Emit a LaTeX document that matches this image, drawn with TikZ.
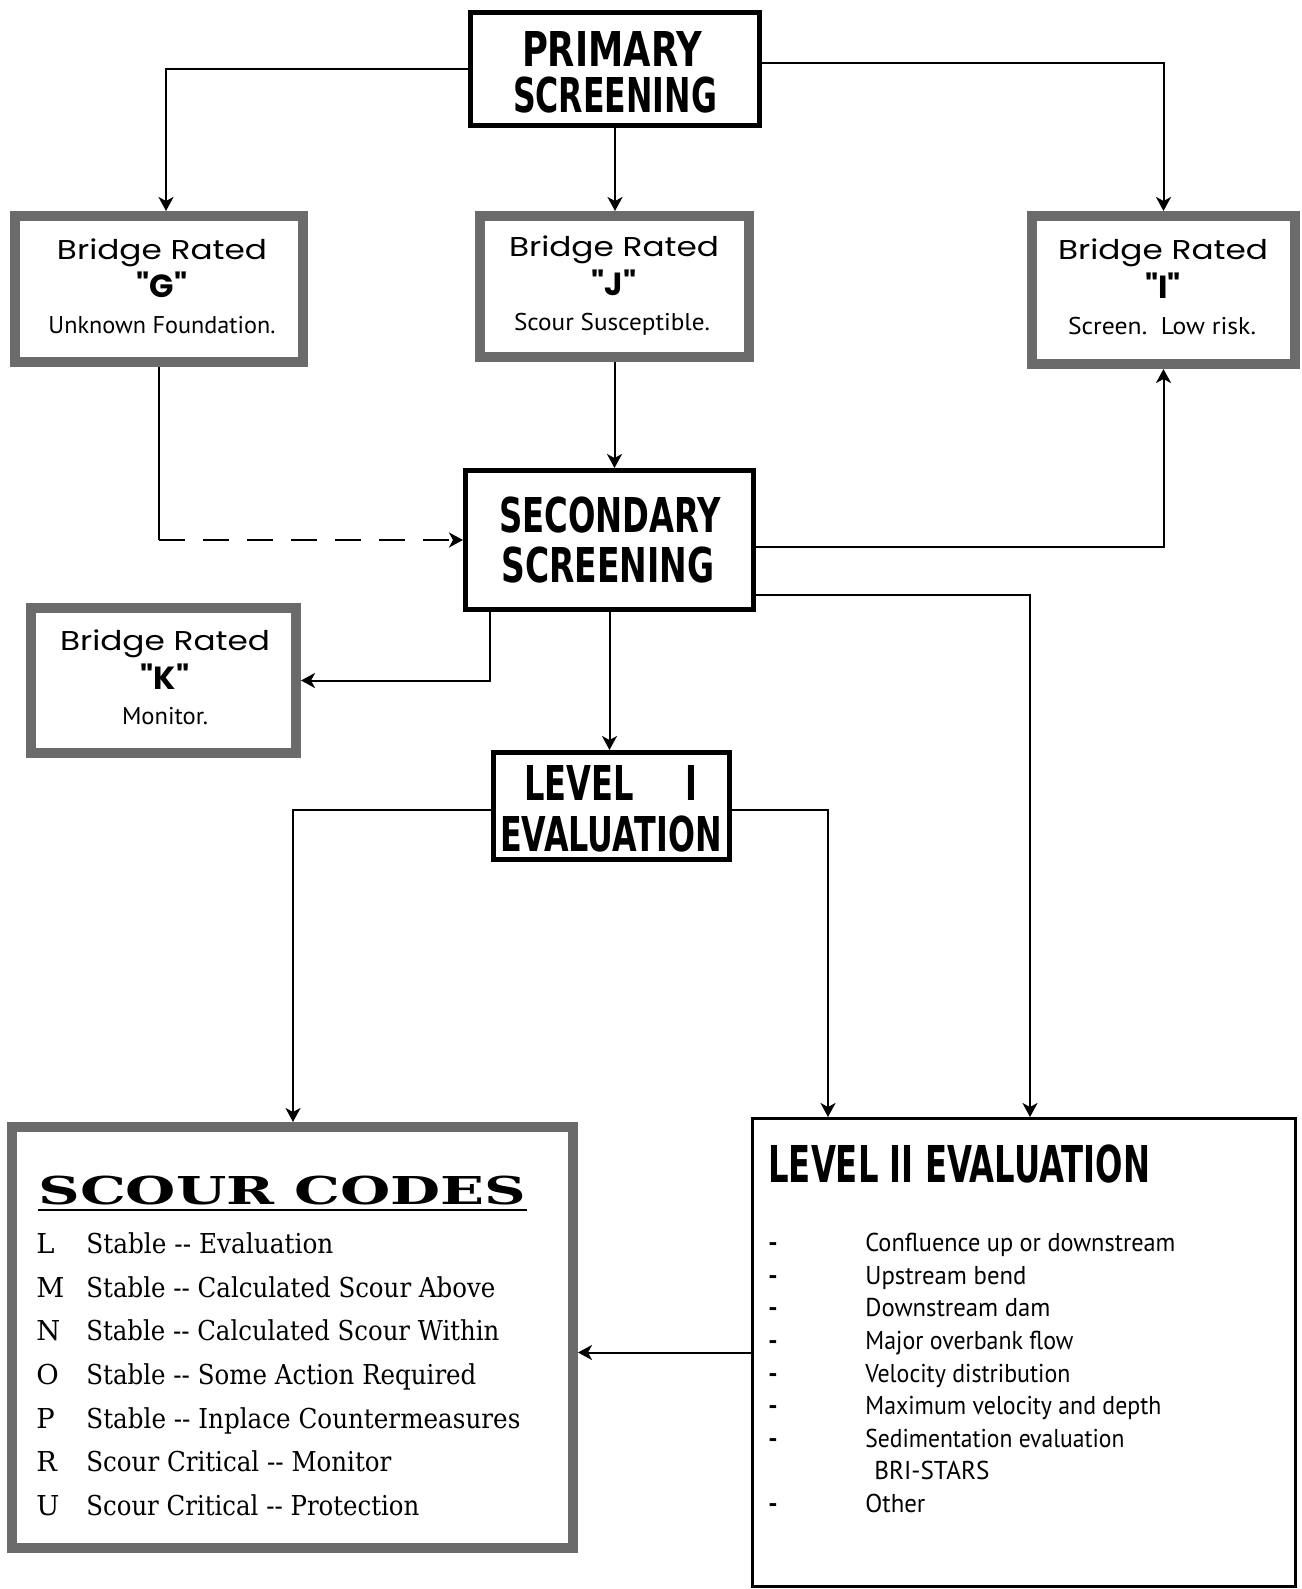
\documentclass[tikz,border=0pt]{standalone}
\usepackage{graphicx}
\usepackage{fontspec}
\usetikzlibrary{arrows.meta}
\newfontfamily\titlef{DejaVu Sans}
\newfontfamily\bridgef{Poppins}
\newfontfamily\descf{PT Sans}
\newfontfamily\scourf{DejaVu Serif}
\newcommand\fitw[2]{\resizebox{#1}{\height}{#2}}
\newcommand\ttl[1]{{\titlef\bfseries\fontsize{24pt}{24pt}\selectfont #1}}
\newcommand\brg[1]{{\bridgef\fontsize{13.6pt}{14pt}\selectfont #1}}
\newcommand\ltr[1]{{\bridgef\bfseries\fontsize{16pt}{17pt}\selectfont "#1"}}
\newcommand\dsc[1]{{\descf\fontsize{12.1pt}{13pt}\selectfont #1}}
\newcommand\scr[1]{{\scourf\fontsize{13.7pt}{14pt}\selectfont #1}}
\newcommand\lst[1]{{\descf\fontsize{12.9pt}{13pt}\selectfont #1}}
\begin{document}
\begin{tikzpicture}[x=0.5pt,y=-0.5pt,
  solidbox/.style={draw, line width=2.4pt, inner sep=0pt, outer sep=1.2pt},
  thinbox/.style={draw, line width=1.6pt, inner sep=0pt, outer sep=0.8pt},
  hatchbox/.style={draw=black!58, line width=5pt, inner sep=0pt, outer sep=2.5pt},
  conn/.style={line width=1pt, -{Stealth[length=7pt,width=7.5pt,inset=2pt]}},
  plainline/.style={line width=1pt},
  txt/.style={inner sep=0pt, anchor=base},
  txtw/.style={inner sep=0pt, anchor=base west}]
\useasboundingbox (0,0) rectangle (1301,1589);
\fill[white] (0,0) rectangle (1301,1589);

% boxes
\node[solidbox, minimum width=144.6pt, minimum height=56.6pt] (prim) at (615,69) {};
\node[solidbox, minimum width=144.1pt, minimum height=69.6pt] (sec) at (609.5,540) {};
\node[solidbox, minimum width=118.1pt, minimum height=53.6pt] (lev1) at (611.5,806) {};
\node[thinbox, minimum width=271.4pt, minimum height=233.9pt] (lev2) at (1024,1352.5) {};
\node[hatchbox, minimum width=144pt, minimum height=73pt] (g) at (159,289) {};
\node[hatchbox, minimum width=134.5pt, minimum height=70.5pt] (j) at (614.5,286.5) {};
\node[hatchbox, minimum width=131.5pt, minimum height=74pt] (i) at (1163.5,290) {};
\node[hatchbox, minimum width=132.5pt, minimum height=72.5pt] (k) at (163.5,680.5) {};
\node[hatchbox, minimum width=280.5pt, minimum height=210.5pt] (scour) at (292.5,1337.5) {};

% titles
\node[txt] (primA) at (612,67) {\fitw{90pt}{\ttl{PRIMARY}}};
\node[txt] (primB) at (615,113) {\fitw{102pt}{\ttl{SCREENING}}};
\node[txt] (secA) at (610,532) {\fitw{111pt}{\ttl{SECONDARY}}};
\node[txt] (secB) at (608,582) {\fitw{106.5pt}{\ttl{SCREENING}}};
\node[txt] (l1A) at (611,800) {\fitw{86.5pt}{\ttl{LEVEL\hspace{1.6em}I}}};
\node[txt] (l1B) at (611,851) {\fitw{111pt}{\ttl{EVALUATION}}};
\node[txtw] (l2A) at (768,1182) {\fitw{191pt}{{\titlef\bfseries\fontsize{25.4pt}{26pt}\selectfont LEVEL II EVALUATION}}};

% bridge boxes text
\node[txt] (gA) at (162,259) {\fitw{105pt}{\brg{Bridge Rated}}};
\node[txt] (gB) at (162,298) {\ltr{G}};
\node[txt] (gC) at (162,333) {\fitw{113.5pt}{\dsc{Unknown Foundation.}}};
\node[txt] (jA) at (614,256.5) {\fitw{105pt}{\brg{Bridge Rated}}};
\node[txt] (jB) at (614,295.5) {\ltr{J}};
\node[txt] (jC) at (612,330.5) {\fitw{98pt}{\dsc{Scour Susceptible.}}};
\node[txt] (iA) at (1163,260) {\fitw{105pt}{\brg{Bridge Rated}}};
\node[txt] (iB) at (1163,299) {\ltr{I}};
\node[txt] (iC) at (1162,334) {\fitw{94pt}{\dsc{Screen.\ \ Low risk.}}};
\node[txt] (kA) at (165,650.5) {\fitw{105pt}{\brg{Bridge Rated}}};
\node[txt] (kB) at (165,689.5) {\ltr{K}};
\node[txt] (kC) at (165,724.5) {\fitw{43pt}{\dsc{Monitor.}}};

% scour codes
\node[txtw] (scT) at (38,1204) {\fitw{244pt}{{\scourf\bfseries\fontsize{19.2pt}{20pt}\selectfont SCOUR CODES}}};
\draw[line width=1pt] (38,1210) -- (527,1210);
\foreach \n/\l/\t/\w/\y in {
  sL/L/{Stable -{}- Evaluation}/123.5/1253,
  sM/M/{Stable -{}- Calculated Scour Above}/204.5/1297,
  sN/N/{Stable -{}- Calculated Scour Within}/206.5/1340,
  sO/O/{Stable -{}- Some Action Required}/195/1384,
  sP/P/{Stable -{}- Inplace Countermeasures}/217/1428,
  sR/R/{Scour Critical -{}- Monitor}/152.5/1471,
  sU/U/{Scour Critical -{}- Protection}/166.5/1515}{
  \node[txtw] (\n l) at (36,\y) {\scr{\l}};
  \node[txtw] (\n t) at (86,\y) {\fitw{\w pt}{\scr{\t}}};
}

% level II list
\foreach \n/\t/\w/\y in {
  a/{Confluence up or downstream}/155/1251,
  b/{Upstream bend}/80.5/1284,
  c/{Downstream dam}/92.5/1316,
  d/{Major overbank flow}/104/1349,
  e/{Velocity distribution}/102.5/1382,
  f/{Maximum velocity and depth}/148/1414,
  g/{Sedimentation evaluation}/129.5/1447,
  i/{Other}/30/1512}{
  \node[txtw] (L2\n) at (865,\y) {\fitw{\w pt}{\lst{\t}}};
  \node[txtw] (L2d\n) at (768,\y) {\lst{\bfseries -}};
}
\node[txtw] (L2h) at (874,1479) {\fitw{57.5pt}{\lst{BRI-STARS}}};

% connectors
\draw[conn] (prim.west) -| ([xshift=3.5pt]g.north);
\draw[conn] (prim.south) -- (prim.south |- j.north);
\draw[conn] ([yshift=3pt]prim.east) -| (i.north);
\coordinate (gturn) at (g.south |- sec.west);
\draw[plainline] (g.south) -- (gturn);
\draw[conn, dash pattern=on 13pt off 9pt] (gturn) -- (sec.west);
\draw[conn] (j.south) -- (j.south |- sec.north);
\draw[conn] ([yshift=-3.5pt]sec.east) -| (i.south);
\draw[conn] ([yshift=-27.5pt]sec.east) -| ([xshift=139.5pt]lev2.north west);
\draw[conn] ([xshift=13.5pt]sec.south west) |- (k.east);
\draw[conn] (sec.south) -- (sec.south |- lev1.north);
\draw[conn] ([yshift=-2pt]lev1.west) -| ([xshift=143pt]scour.north west);
\draw[conn] ([yshift=-2pt]lev1.east) -| ([xshift=38.5pt]lev2.north west);
\draw[conn] (lev2.west) -- (lev2.west -| scour.east);
\end{tikzpicture}
\end{document}
